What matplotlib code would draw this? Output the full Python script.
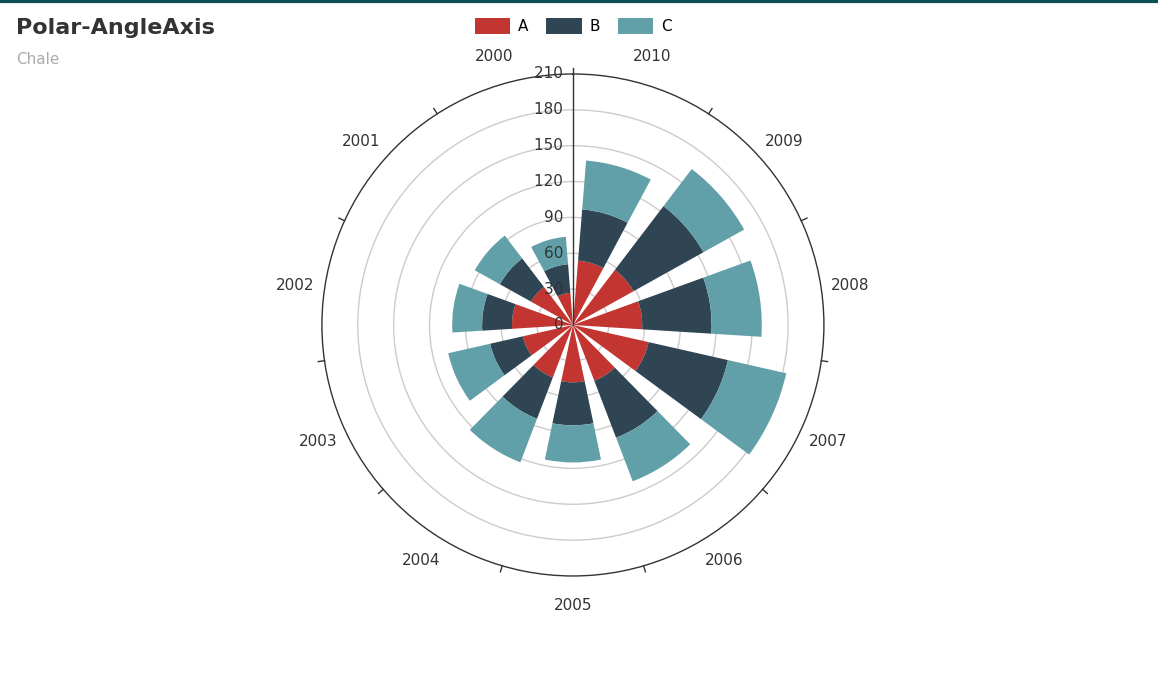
import numpy as np
import matplotlib.pyplot as plt
from matplotlib.patches import Patch

years = ["2000", "2001", "2002", "2003", "2004", "2005", "2006", "2007", "2008", "2009", "2010"]
series_a = [27, 40, 51, 43, 47, 48, 50, 65, 58, 58, 54]
series_b = [24, 30, 25, 28, 37, 36, 51, 68, 58, 67, 43]
series_c = [23, 24, 25, 36, 39, 31, 39, 50, 42, 39, 41]
colors = {"A": "#c23531", "B": "#2f4554", "C": "#61a0a8"}
r_max = 210

fig = plt.figure(figsize=(11.58, 6.75), dpi=100)
ax = fig.add_axes([0.278, 0.1467, 0.4335, 0.7437], projection="polar")
ax.set_theta_zero_location("N")
ax.set_theta_direction(1)

n = len(years)
step = 2 * np.pi / n
theta = (np.arange(n) + 0.5) * step
width = step * 0.72

bottom = np.zeros(n)
for name, vals in [("A", series_a), ("B", series_b), ("C", series_c)]:
    ax.bar(theta, vals, width=width, bottom=bottom, color=colors[name], zorder=3)
    bottom += np.array(vals)

ax.set_ylim(0, r_max)
ax.set_yticks(np.arange(30, r_max, 30))
ax.set_yticklabels([])
ax.yaxis.grid(True, color="#cccccc", linewidth=1)
ax.xaxis.grid(False)
ax.spines["polar"].set_color("#333333")
ax.spines["polar"].set_linewidth(1)

ax.set_xticks(theta)
ax.set_xticklabels(years, fontsize=11, color="#333333")
ax.tick_params(axis="x", length=0, pad=14)

# boundary ticks on the angle axis
for b in np.arange(n) * step:
    ax.plot([b, b], [r_max, r_max * 1.025], color="#333333", lw=1, clip_on=False)

# radius axis line and labels
ax.plot([0, 0], [0, r_max], color="#333333", lw=1, zorder=4)
for v in range(0, r_max + 1, 30):
    ax.text(np.deg2rad(3) * 0 + 0, v, f"{v}  ", ha="right", va="center",
            fontsize=11, color="#333333", zorder=5)

fig.add_artist(plt.Line2D([0, 1], [0.998, 0.998], color="#0b4f55", lw=3))
fig.text(16 / 1158, 1 - 28 / 675, "Polar-AngleAxis", fontsize=16, fontweight="bold",
         color="#333333", va="center")
fig.text(16 / 1158, 1 - 60 / 675, "Chale", fontsize=11, color="#aaaaaa", va="center")

handles = [Patch(facecolor=colors[k], label=k) for k in ["A", "B", "C"]]
fig.legend(handles=handles, loc="center", bbox_to_anchor=(0.495, 1 - 26 / 675), ncol=3,
           frameon=False, fontsize=11, handlelength=2.3, handleheight=1.3,
           columnspacing=1.2, handletextpad=0.5)

fig.savefig("out.png", dpi=100)
